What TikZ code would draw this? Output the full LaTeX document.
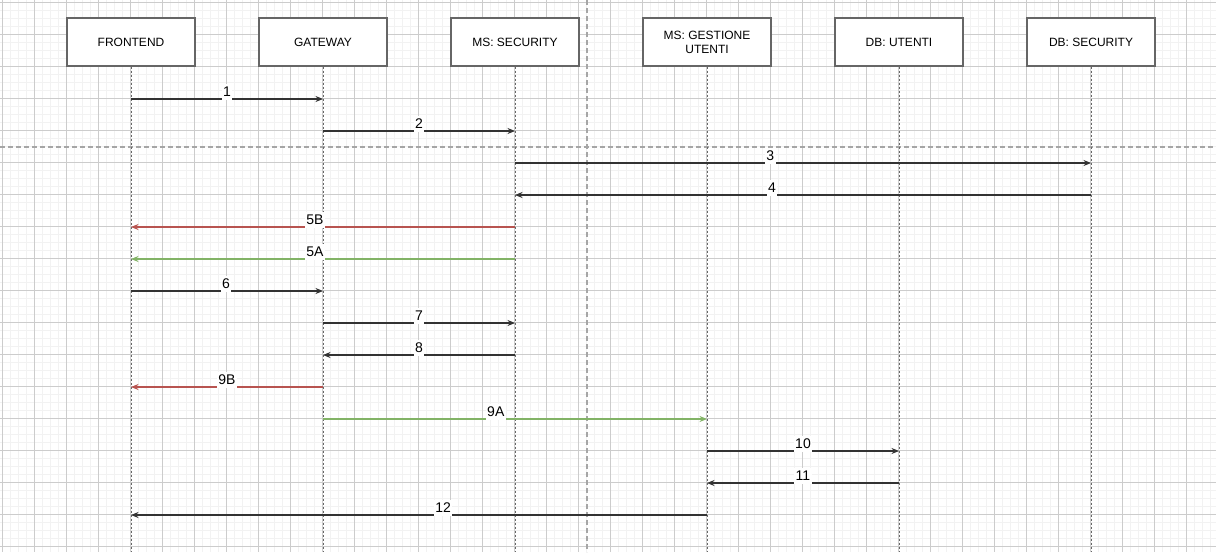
\documentclass[tikz,border=0pt]{standalone}
\usepackage{fontspec}
\setmainfont{Liberation Sans}
\usetikzlibrary{arrows.meta}
\definecolor{linec}{HTML}{333333}
\definecolor{redc}{HTML}{B85450}
\definecolor{greenc}{HTML}{82B366}
\definecolor{boxc}{HTML}{666666}
\tikzset{
  gridminor/.style={draw=black!5, line width=0.6pt},
  gridmajor/.style={draw=black!20, line width=0.8pt},
  pagebreak/.style={draw=black!35, line width=1.2pt, dash pattern=on 5pt off 3pt},
  actor/.style={draw=boxc, fill=white, line width=1.2pt, minimum width=128pt, minimum height=48pt,
    align=center, font=\fontsize{12}{14}\selectfont, inner sep=2pt},
  lifeline/.style={draw=boxc, line width=1pt, dash pattern=on 2pt off 2pt},
  msg/.style={draw=linec, line width=1.05pt, -{Stealth[length=7.5pt,width=6pt]}},
  msgred/.style={msg, draw=redc, -{Stealth[length=7.5pt,width=6pt,fill=redc]}},
  msggreen/.style={msg, draw=greenc, -{Stealth[length=7.5pt,width=6pt,fill=greenc]}},
  lbl/.style={fill=white, inner xsep=1.5pt, inner ysep=2pt, text height=10pt, text depth=1.5pt,
    font=\fontsize{14}{16}\selectfont, yshift=7pt}
}
\begin{document}
\begin{tikzpicture}[x=1pt,y=-1pt]
\useasboundingbox (0,0) rectangle (1216,552);
\fill[white] (0,0) rectangle (1216,552);
% grid
\foreach \v in {2,10,...,1216} \draw[gridminor] (\v,0) -- (\v,552);
\foreach \v in {2,10,...,552} \draw[gridminor] (0,\v) -- (1216,\v);
\foreach \v in {2,34,...,1216} \draw[gridmajor] (\v,0) -- (\v,552);
\foreach \v in {2,34,...,552} \draw[gridmajor] (0,\v) -- (1216,\v);
% page breaks
\draw[pagebreak] (587,0) -- (587,552);
\draw[pagebreak] (0,147) -- (1216,147);
% actors
\node[actor] (fe) at (131,42) {FRONTEND};
\node[actor] (gw) at (323,42) {GATEWAY};
\node[actor] (ms) at (515,42) {MS: SECURITY};
\node[actor] (gu) at (707,42) {MS: GESTIONE\\UTENTI};
\node[actor] (du) at (899,42) {DB: UTENTI};
\node[actor] (ds) at (1091,42) {DB: SECURITY};
% lifelines
\foreach \n in {fe,gw,ms,gu,du,ds} {
  \coordinate (\n-end) at (\n |- 0,552);
  \draw[lifeline] (\n.south) -- (\n-end);
}
% messages
\draw[msg] (fe |- 0,99) -- node[lbl,pos=0.5]{1} (gw |- 0,99);
\draw[msg] (gw |- 0,131) -- node[lbl,pos=0.5]{2} (ms |- 0,131);
\draw[msg] (ms |- 0,163) -- node[lbl,pos=0.443]{3} (ds |- 0,163);
\draw[msg] (ds |- 0,195) -- node[lbl,pos=0.554]{4} (ms |- 0,195);
\draw[msgred] (ms |- 0,227) -- node[lbl,pos=0.521]{5B} (fe |- 0,227);
\draw[msggreen] (ms |- 0,259) -- node[lbl,pos=0.521]{5A} (fe |- 0,259);
\draw[msg] (fe |- 0,291) -- node[lbl,pos=0.495]{6} (gw |- 0,291);
\draw[msg] (gw |- 0,323) -- node[lbl,pos=0.5]{7} (ms |- 0,323);
\draw[msg] (ms |- 0,355) -- node[lbl,pos=0.5]{8} (gw |- 0,355);
\draw[msgred] (gw |- 0,387) -- node[lbl,pos=0.5]{9B} (fe |- 0,387);
\draw[msggreen] (gw |- 0,419) -- node[lbl,pos=0.45]{9A} (gu |- 0,419);
\draw[msg] (gu |- 0,451) -- node[lbl,pos=0.5]{10} (du |- 0,451);
\draw[msg] (du |- 0,483) -- node[lbl,pos=0.5]{11} (gu |- 0,483);
\draw[msg] (gu |- 0,515) -- node[lbl,pos=0.458]{12} (fe |- 0,515);
\end{tikzpicture}
\end{document}
